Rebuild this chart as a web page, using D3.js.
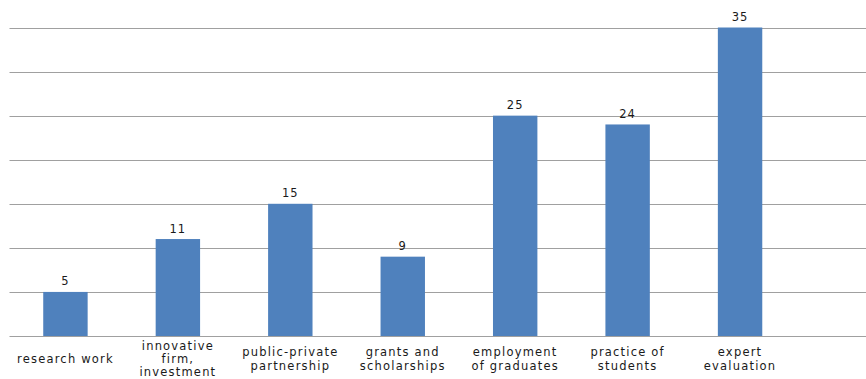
<!DOCTYPE html>
<html>
<head>
<meta charset="utf-8">
<script src="https://cdn.jsdelivr.net/npm/d3@7"></script>
<style>
  body { margin: 0; background: #fff; }
  svg text { font-family: "DejaVu Sans", Verdana, sans-serif; fill: #1a1a1a; }
</style>
</head>
<body>
<svg class="chart" width="866" height="379"></svg>
<script>
// categories (line-broken as in the picture) and their counts
var categories = [
  ["research work"],
  ["innovative", "firm,", "investment"],
  ["public-private", "partnership"],
  ["grants and", "scholarships"],
  ["employment", "of graduates"],
  ["practice of", "students"],
  ["expert", "evaluation"]
];
var values = [5, 11, 15, 9, 25, 24, 35];
var gridTicks = [0, 5, 10, 15, 20, 25, 30, 35];

var svg = d3.select("svg.chart"),
    width = +svg.attr("width"),
    height = +svg.attr("height");

var plot = { left: 9.5, right: 866, top: 27.5, bottom: 336 };

var x = d3.scaleBand()
    .domain(d3.range(values.length))
    .range([plot.left, 796])
    .paddingInner(0.605)
    .paddingOuter(0.3);

var y = d3.scaleLinear()
    .domain([0, 35])
    .range([plot.bottom, plot.top]);

// horizontal grid lines
svg.append("g")
    .attr("class", "grid")
  .selectAll("line")
  .data(gridTicks)
  .enter().append("line")
    .attr("x1", plot.left)
    .attr("x2", plot.right)
    .attr("y1", function(d) { return Math.round(y(d)) + 0.5; })
    .attr("y2", function(d) { return Math.round(y(d)) + 0.5; })
    .attr("stroke", "#a0a0a0")
    .attr("stroke-width", 1.2);

// bars
svg.append("g")
    .attr("class", "bars")
  .selectAll("rect")
  .data(values)
  .enter().append("rect")
    .attr("x", function(d, i) { return x(i); })
    .attr("y", function(d) { return y(d); })
    .attr("width", x.bandwidth())
    .attr("height", function(d) { return y(0) - y(d); })
    .attr("fill", "#4f81bd");

// value labels
svg.append("g")
  .selectAll("text")
  .data(values)
  .enter().append("text")
    .attr("x", function(d, i) { return x(i) + x.bandwidth() / 2; })
    .attr("y", function(d) { return y(d) - 6.5; })
    .attr("text-anchor", "middle")
    .attr("font-size", "11.5px")
    .attr("letter-spacing", "1px")
    .text(function(d) { return d; });

// category labels, centred vertically round one line
var lineH = 13.3;
var label = svg.append("g")
  .selectAll("text")
  .data(categories)
  .enter().append("text")
    .attr("text-anchor", "middle")
    .attr("font-size", "11.5px")
    .attr("letter-spacing", "1.2px");

label.selectAll("tspan")
    .data(function(d, i) {
      return d.map(function(t, j) { return { t: t, j: j, n: d.length, i: i }; });
    })
  .enter().append("tspan")
    .attr("x", function(d) { return x(d.i) + x.bandwidth() / 2; })
    .attr("y", function(d) { return 363 + (d.j - (d.n - 1) / 2) * lineH; })
    .text(function(d) { return d.t; });
</script>
</body>
</html>
